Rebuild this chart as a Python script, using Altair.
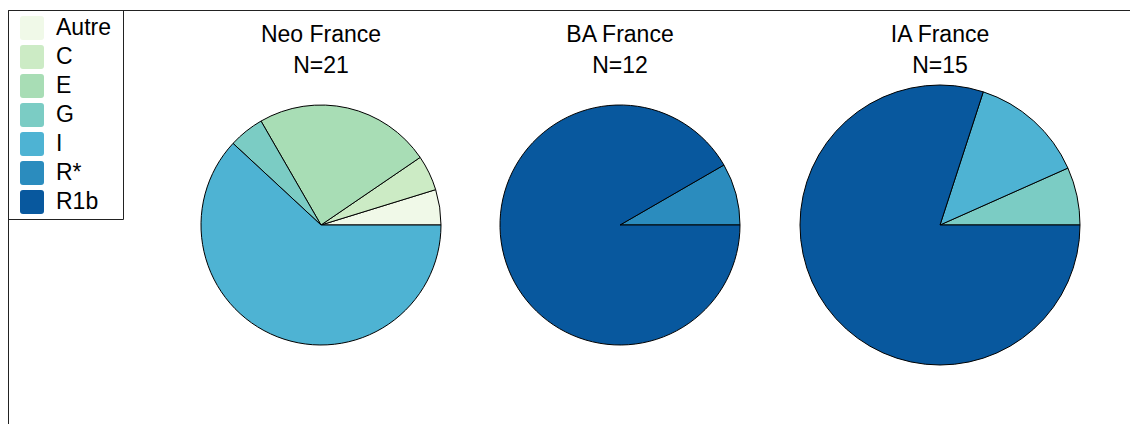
import math
import altair as alt
import pandas as pd

# ---- data ----
populations = ["Neo France", "BA France", "IA France"]
sample_labels = ["N=21", "N=12", "N=15"]
haplogroups = ["Autre", "C", "E", "G", "I", "R*", "R1b"]
neo_counts = [1, 1, 5, 1, 13, 0, 0]
ba_counts = [0, 0, 0, 0, 0, 1, 11]
ia_counts = [0, 0, 0, 1, 2, 0, 12]
palette = ["#f0f9e8", "#ccebc5", "#a8ddb5", "#7bccc4", "#4eb3d3", "#2b8cbe", "#08589e"]

rows = []
for pop, counts in zip(populations, [neo_counts, ba_counts, ia_counts]):
    for i, (h, c) in enumerate(zip(haplogroups, counts)):
        rows.append({"pop": pop, "hg": h, "n": c, "idx": i})
df = pd.DataFrame(rows)
titles = pd.DataFrame({"pop": populations, "nlab": sample_labels})

# ---- layout ----
W, H = 1121, 416
centers_x = [312, 611, 931]
radii = [120, 120, 140]
center_y = 217
FONT = "Liberation Sans"

rounded_square = ("M -0.75 -1 L 0.75 -1 Q 1 -1 1 -0.75 L 1 0.75 Q 1 1 0.75 1 "
                  "L -0.75 1 Q -1 1 -1 0.75 L -1 -0.75 Q -1 -1 -0.75 -1 Z")

color = alt.Color(
    "hg:N",
    scale=alt.Scale(domain=haplogroups, range=palette),
    legend=alt.Legend(
        title=None, orient="none", legendX=-1, legendY=3,
        padding=5,
        symbolType=rounded_square, symbolSize=576, symbolStrokeWidth=0,
        symbolOpacity=1, symbolOffset=7, labelOffset=12,
        labelFont=FONT, labelFontSize=23, labelColor="black",
        labelLimit=300, rowPadding=5,
    ),
)
theta = alt.Theta("n:Q", stack="normalize",
                  scale=alt.Scale(range=[math.pi / 2, math.pi / 2 - 2 * math.pi]))

layers = []
for pop, cx, r in zip(populations, centers_x, radii):
    pie = alt.Chart(df).transform_filter(
        (alt.datum.pop == pop) & (alt.datum.n > 0)
    ).mark_arc(radius=r, stroke="black", strokeWidth=1).encode(
        theta=theta,
        color=color,
        order=alt.Order("idx:Q", sort="ascending"),
        x=alt.value(cx),
        y=alt.value(center_y),
    )
    t1 = alt.Chart(titles).transform_filter(alt.datum.pop == pop).mark_text(
        font=FONT, fontSize=23, color="black", baseline="alphabetic", align="center"
    ).encode(text="pop:N", x=alt.value(cx), y=alt.value(34))
    t2 = alt.Chart(titles).transform_filter(alt.datum.pop == pop).mark_text(
        font=FONT, fontSize=23, color="black", baseline="alphabetic", align="center"
    ).encode(text="nlab:N", x=alt.value(cx), y=alt.value(65))
    layers += [pie, t1, t2]

frame_df = pd.DataFrame({"k": [0]})
top_rule = alt.Chart(frame_df).mark_rule(color="#222222", strokeWidth=1).encode(
    x=alt.value(-0.5), x2=alt.value(W), y=alt.value(2.5)
)
left_rule = alt.Chart(frame_df).mark_rule(color="#222222", strokeWidth=1).encode(
    x=alt.value(-0.5), y=alt.value(2.5), y2=alt.value(H)
)
legend_box = alt.Chart(frame_df).mark_rect(
    fillOpacity=0, stroke="#222222", strokeWidth=1
).encode(
    x=alt.value(-0.5), x2=alt.value(114.5), y=alt.value(2.5), y2=alt.value(211.5)
)

chart = alt.layer(top_rule, left_rule, legend_box, *layers).properties(
    width=W, height=H,
    autosize=alt.AutoSizeParams(type="none"),
    padding={"left": 1, "top": 0, "right": 0, "bottom": 0},
).configure_view(stroke=None)

chart.save("out.html", embed_options={"renderer": "svg", "actions": False})
